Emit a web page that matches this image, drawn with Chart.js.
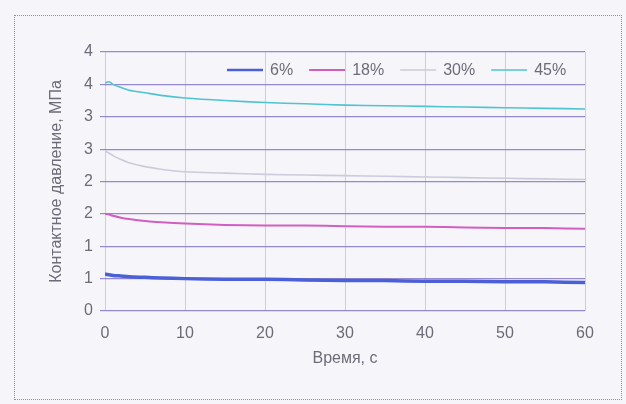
<!DOCTYPE html>
<html><head><meta charset="utf-8">
<script src="https://cdn.jsdelivr.net/npm/chart.js@4.4.1/dist/chart.umd.min.js"></script>
<style>
html,body{margin:0;padding:0;background:#f6f6fa;}
#wrap{position:relative;width:626px;height:404px;overflow:hidden;}
#frame{position:absolute;left:14px;top:15px;width:608px;height:385px;border:1px dotted #8e8eaa;box-sizing:border-box;pointer-events:none;}
canvas{position:absolute;left:0;top:0;}
</style></head><body>
<div id="wrap"><canvas id="c" width="626" height="404"></canvas><div id="frame"></div></div>
<script>
const times = [0, 0.5, 1, 2, 3, 5, 7, 10, 15, 20, 25, 30, 35, 40, 45, 50, 55, 60];
const seriesLabels = ['6%', '18%', '30%', '45%'];
const p6  = [0.57, 0.56, 0.55, 0.54, 0.53, 0.52, 0.51, 0.50, 0.49, 0.49, 0.48, 0.47, 0.47, 0.46, 0.46, 0.45, 0.45, 0.44];
const p18 = [1.50, 1.49, 1.47, 1.44, 1.42, 1.39, 1.37, 1.35, 1.33, 1.32, 1.32, 1.31, 1.30, 1.30, 1.29, 1.28, 1.28, 1.27];
const p30 = [2.47, 2.44, 2.40, 2.34, 2.29, 2.23, 2.19, 2.15, 2.13, 2.11, 2.10, 2.09, 2.08, 2.07, 2.06, 2.05, 2.04, 2.03];
const p45 = [3.52, 3.54, 3.50, 3.45, 3.41, 3.37, 3.33, 3.29, 3.25, 3.22, 3.20, 3.18, 3.17, 3.16, 3.15, 3.14, 3.13, 3.12];
const xTitle = 'Время, с';
const yTitle = 'Контактное давление, МПа';

function fontAvailable(name) {
  const c = document.createElement('canvas').getContext('2d');
  const s = 'Время 0123456789%';
  c.font = '20px monospace'; const w1 = c.measureText(s).width;
  c.font = '20px "' + name + '", monospace'; const w2 = c.measureText(s).width;
  return Math.abs(w1 - w2) > 0.5;
}
const narrow = fontAvailable('Liberation Sans Narrow');
const FONT = narrow ? '"Liberation Sans Narrow", sans-serif' : '"Liberation Sans", Arial, sans-serif';
const FS = narrow ? 17 : 16;
const TXT = '#6c6c78';
const colors = ['#4b5fd6', '#d25ec2', '#cbcbdb', '#4fc3d2'];
const widths = [3.5, 2, 1.6, 1.6];
const allSeries = [p6, p18, p30, p45];

const datasets = allSeries.map((s, i) => ({
  label: seriesLabels[i],
  data: times.map((t, k) => ({x: t, y: s[k]})),
  borderColor: colors[i],
  backgroundColor: colors[i],
  borderWidth: widths[i],
  pointRadius: 0,
  tension: 0.3,
  fill: false
}));

const legendPlugin = {
  id: 'inlegend',
  afterDraw(chart) {
    const ctx = chart.ctx;
    ctx.save();
    ctx.font = FS + 'px ' + FONT;
    ctx.textBaseline = 'middle';
    ctx.textAlign = 'left';
    let x = 227;
    const y = 70;
    chart.data.datasets.forEach(ds => {
      ctx.strokeStyle = ds.borderColor;
      ctx.lineWidth = Math.min(ds.borderWidth, 2.5);
      ctx.beginPath();
      ctx.moveTo(x, y);
      ctx.lineTo(x + 36, y);
      ctx.stroke();
      x += 43;
      ctx.fillStyle = TXT;
      ctx.fillText(ds.label, x, y + 1);
      x += ctx.measureText(ds.label).width + 16;
    });
    ctx.restore();
  }
};

new Chart(document.getElementById('c'), {
  type: 'line',
  data: {datasets},
  options: {
    responsive: false,
    animation: false,
    layout: {padding: {left: 46, right: 41, top: 52, bottom: 0}},
    plugins: {legend: {display: false}, tooltip: {enabled: false}},
    scales: {
      x: {
        type: 'linear', min: 0, max: 60,
        ticks: {stepSize: 10, color: TXT, font: {family: FONT, size: FS}, padding: 13, maxRotation: 0},
        grid: {color: 'rgba(170,170,205,0.55)', tickLength: 0, lineWidth: 1},
        border: {display: false},
        title: {display: true, text: xTitle, color: TXT, font: {family: FONT, size: FS}, padding: {top: 0, bottom: 36}},
        afterFit(s) { s.height = 93; }
      },
      y: {
        min: 0, max: 4,
        ticks: {stepSize: 0.5, color: TXT, font: {family: FONT, size: FS}, padding: 7,
          callback: v => String(Math.round(v))},
        grid: {color: 'rgba(125,110,200,0.8)', tickLength: 5, lineWidth: 1.2},
        border: {display: false},
        title: {display: true, text: yTitle, color: TXT, font: {family: FONT, size: FS}, padding: {top: 1, bottom: 0}},
        afterFit(s) { s.width = 59; }
      }
    }
  },
  plugins: [legendPlugin]
});
</script>
</body></html>
